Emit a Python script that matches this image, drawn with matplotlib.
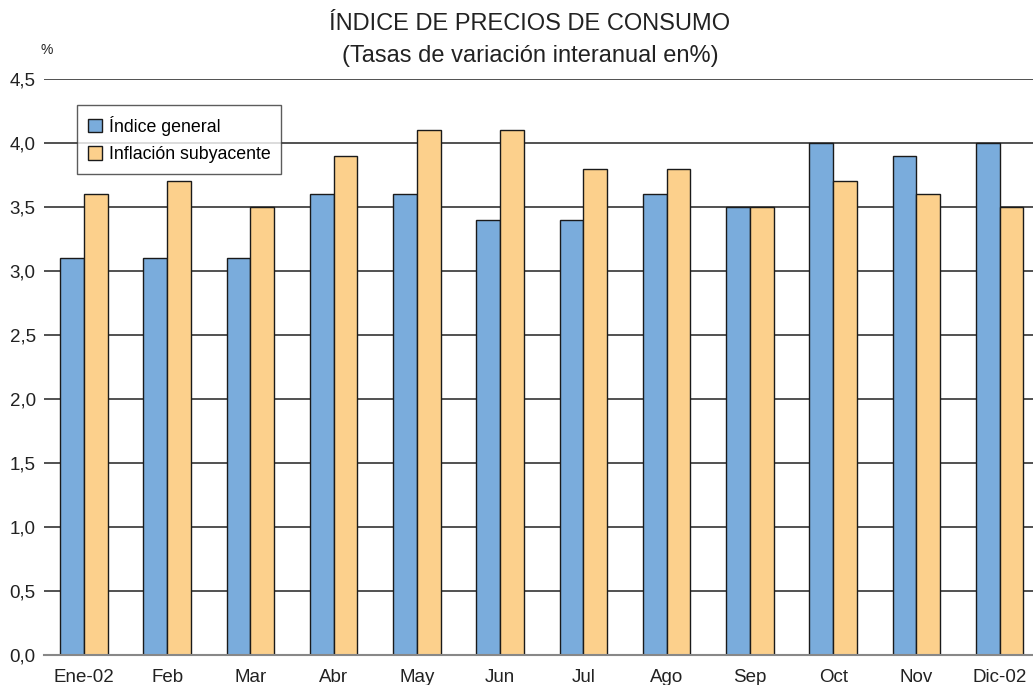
import numpy as np
import matplotlib.pyplot as plt

plt.rcParams['font.family'] = ['Liberation Sans', 'DejaVu Sans']

meses = ["Ene-02", "Feb", "Mar", "Abr", "May", "Jun", "Jul", "Ago", "Sep", "Oct", "Nov", "Dic-02"]
indice_general = [3.1, 3.1, 3.1, 3.6, 3.6, 3.4, 3.4, 3.6, 3.5, 4.0, 3.9, 4.0]
inflacion_subyacente = [3.6, 3.7, 3.5, 3.9, 4.1, 4.1, 3.8, 3.8, 3.5, 3.7, 3.6, 3.5]
yticks = [0.0, 0.5, 1.0, 1.5, 2.0, 2.5, 3.0, 3.5, 4.0, 4.5]

fig = plt.figure(figsize=(10.33, 6.85), dpi=100)
ax = fig.add_axes([0.0426, 0.0438, 0.9574, 0.8409])

x = np.arange(len(meses))
w = 0.285
ax.bar(x - w / 2, indice_general, w, color="#7aacdc", edgecolor="#1a1a1a", linewidth=1.0,
       label="Índice general", zorder=3)
ax.bar(x + w / 2, inflacion_subyacente, w, color="#fcd08c", edgecolor="#1a1a1a", linewidth=1.0,
       label="Inflación subyacente", zorder=3)

ax.set_xlim(-0.48, 11.4)
ax.set_ylim(0, 4.5)
ax.set_yticks(yticks)
ax.set_yticklabels([f"{v:.1f}".replace(".", ",") for v in yticks])
ax.set_xticks(x)
ax.set_xticklabels(meses)
ax.tick_params(axis="both", length=0, labelsize=13.5, colors="#222222")
ax.tick_params(axis="y", pad=6)
ax.tick_params(axis="x", pad=10)
ax.grid(axis="y", color="#333333", linewidth=1.2, zorder=0)

for s in ["top", "right", "left"]:
    ax.spines[s].set_visible(False)
ax.spines["bottom"].set_color("#888888")
ax.spines["bottom"].set_linewidth(1.5)
ax.spines["bottom"].set_zorder(4)

leg = ax.legend(loc="upper left", bbox_to_anchor=(0.0334, 0.955), borderaxespad=0, fontsize=12.8,
                frameon=True, fancybox=False, edgecolor="#333333", handlelength=0.8, handleheight=0.8,
                handletextpad=0.4, borderpad=0.6, labelspacing=0.6)
leg.get_frame().set_linewidth(1.0)
leg.set_zorder(5)

fig.text(0.513, 0.965, "ÍNDICE DE PRECIOS DE CONSUMO", ha="center", va="center", fontsize=17, color="#222222")
fig.text(0.513, 0.918, "(Tasas de variación interanual en%)", ha="center", va="center", fontsize=17, color="#222222")
fig.text(0.045, 0.927, "%", ha="center", va="center", fontsize=10, color="#222222")

fig.savefig("out.png", dpi=100)
